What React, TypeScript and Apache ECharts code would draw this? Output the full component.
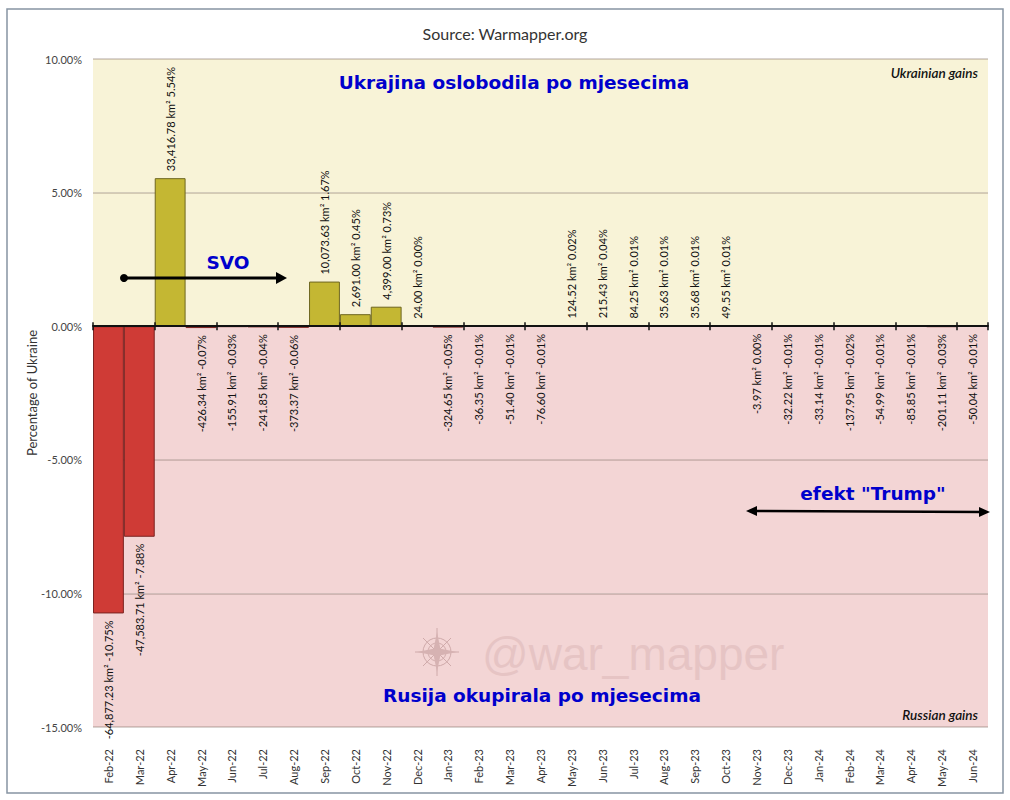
import React, { useEffect, useRef } from 'react';
import * as echarts from 'echarts';

const months = [
  'Feb-22', 'Mar-22', 'Apr-22', 'May-22', 'Jun-22', 'Jul-22', 'Aug-22', 'Sep-22', 'Oct-22', 'Nov-22',
  'Dec-22', 'Jan-23', 'Feb-23', 'Mar-23', 'Apr-23', 'May-23', 'Jun-23', 'Jul-23', 'Aug-23', 'Sep-23',
  'Oct-23', 'Nov-23', 'Dec-23', 'Jan-24', 'Feb-24', 'Mar-24', 'Apr-24', 'May-24', 'Jun-24',
];

const pctValues = [
  -10.75, -7.88, 5.54, -0.07, -0.03, -0.04, -0.06, 1.67, 0.45, 0.73,
  0.0, -0.05, -0.01, -0.01, -0.01, 0.02, 0.04, 0.01, 0.01, 0.01,
  0.01, 0.0, -0.01, -0.01, -0.02, -0.01, -0.01, -0.03, -0.01,
];

const kmValues = [
  -64877.23, -47583.71, 33416.78, -426.34, -155.91, -241.85, -373.37, 10073.63, 2691.0, 4399.0,
  24.0, -324.65, -36.35, -51.4, -76.6, 124.52, 215.43, 84.25, 35.63, 35.68,
  49.55, -3.97, -32.22, -33.14, -137.95, -54.99, -85.85, -201.11, -50.04,
];

const yMin = -15;
const yMax = 10;
const yInterval = 5;

const LABEL_FONT = 'Lato, "Open Sans", sans-serif';
const BLUE_FONT = '"DejaVu Sans", Verdana, sans-serif';

const fmtKm = (v: number) =>
  v.toLocaleString('en-US', { minimumFractionDigits: 2, maximumFractionDigits: 2 });

function buildOption() {
  const data = pctValues.map((v, i) => {
    const km = kmValues[i];
    const up = km >= 0;
    return {
      value: v,
      itemStyle: {
        color: up ? '#c4b733' : '#cf3b36',
        borderColor: up ? '#6e6621' : '#7a2321',
        borderWidth: 1,
      },
      label: {
        show: true,
        position: up ? 'top' : 'bottom',
        distance: 7,
        rotate: 90,
        align: up ? 'left' : 'right',
        verticalAlign: 'middle',
        formatter: `${fmtKm(km)} km² ${v.toFixed(2)}%`,
        fontSize: 11,
        fontFamily: LABEL_FONT,
        color: '#111',
      },
    };
  });

  const bandColors = ['#f3d5d5', '#f3d5d5', '#f3d5d5', '#f8f3d7', '#f8f3d7'];

  const blueText = (text: string, x: number, y: number) => ({
    type: 'text',
    x,
    y,
    z: 100,
    style: {
      text,
      fill: '#0000cc',
      fontSize: 18.5,
      fontWeight: 'bold',
      fontFamily: BLUE_FONT,
      align: 'center',
      verticalAlign: 'middle',
    },
  });

  const cStroke = '#cfaaaa';
  const compassChildren = [
    { type: 'circle', shape: { cx: 0, cy: 0, r: 14 }, style: { fill: 'none', stroke: cStroke, lineWidth: 1 } },
    { type: 'circle', shape: { cx: 0, cy: 0, r: 9 }, style: { fill: 'none', stroke: cStroke, lineWidth: 1 } },
    { type: 'line', shape: { x1: -22, y1: 0, x2: 22, y2: 0 }, style: { stroke: cStroke, lineWidth: 1 } },
    { type: 'line', shape: { x1: 0, y1: -24, x2: 0, y2: 24 }, style: { stroke: cStroke, lineWidth: 1 } },
    { type: 'line', shape: { x1: -14, y1: -14, x2: 14, y2: 14 }, style: { stroke: cStroke, lineWidth: 1 } },
    { type: 'line', shape: { x1: -14, y1: 14, x2: 14, y2: -14 }, style: { stroke: cStroke, lineWidth: 1 } },
    { type: 'polygon', shape: { points: [[0, -20], [4, 0], [0, 20], [-4, 0]] }, style: { fill: '#d6b2b2' } },
    { type: 'polygon', shape: { points: [[-20, 0], [0, -4], [20, 0], [0, 4]] }, style: { fill: '#d6b2b2' } },
  ].map((c) => ({ ...c, z: 60 }));

  const compass = {
    type: 'group',
    x: 437,
    y: 652,
    z: 60,
    children: compassChildren,
  };

  return {
    animation: false,
    backgroundColor: '#ffffff',
    title: {
      text: 'Source: Warmapper.org',
      left: 'center',
      top: 20,
      textStyle: { fontSize: 16, fontWeight: 'normal', color: '#333', fontFamily: LABEL_FONT },
    },
    grid: { left: 93, right: 22, top: 59, bottom: 73, containLabel: false },
    xAxis: [
      {
        type: 'category',
        data: months,
        position: 'bottom',
        axisLine: { show: true, onZero: true, lineStyle: { color: '#111', width: 2 } },
        axisTick: { show: true, length: 4, lineStyle: { color: '#111', width: 1.5 } },
        axisLabel: { show: false },
        splitLine: { show: false },
        z: 10,
      },
      {
        type: 'category',
        data: months,
        position: 'bottom',
        axisLine: { show: false, onZero: false },
        axisTick: { show: false },
        axisLabel: {
          show: true,
          rotate: 90,
          margin: 22,
          fontSize: 11,
          color: '#333',
          fontFamily: LABEL_FONT,
        },
        splitLine: { show: false },
      },
      {
        type: 'category',
        data: months,
        position: 'bottom',
        axisLine: { show: false, onZero: true, onZeroAxisIndex: 1 },
        axisTick: { show: true, inside: true, length: 4, lineStyle: { color: '#111', width: 1.5 } },
        axisLabel: { show: false },
        splitLine: { show: false },
        z: 10,
      },
    ],
    yAxis: [
      {
        type: 'value',
        min: yMin,
        max: yMax,
        interval: yInterval,
        name: 'Percentage of Ukraine',
        nameLocation: 'middle',
        nameGap: 55,
        nameMoveOverlap: false,
        nameTextStyle: { fontSize: 13, color: '#333', fontFamily: LABEL_FONT },
        axisLine: { show: false },
        axisTick: { show: false },
        axisLabel: {
          formatter: (v: number) => `${v.toFixed(2)}%`,
          fontSize: 11,
          color: '#444',
          margin: 11,
          fontFamily: LABEL_FONT,
        },
        splitLine: { show: true, lineStyle: { color: 'rgba(120,100,90,0.38)', width: 1.5 } },
        splitArea: { show: true, areaStyle: { color: bandColors } },
      },
      {
        type: 'value',
        min: yMin,
        max: yMax,
        interval: yInterval,
        show: false,
      },
    ],
    series: [
      {
        type: 'bar',
        xAxisIndex: 0,
        yAxisIndex: 0,
        barCategoryGap: '0%',
        data,
        z: 3,
      },
    ],
    graphic: [
      {
        type: 'rect',
        shape: { x: 7, y: 9, width: 996, height: 784 },
        style: { fill: 'none', stroke: '#8794a3', lineWidth: 1.5 },
        z: 100,
        silent: true,
      },
      blueText('Ukrajina oslobodila po mjesecima', 514, 82),
      blueText('SVO', 228, 262),
      blueText('efekt "Trump"', 873, 493),
      blueText('Rusija okupirala po mjesecima', 542, 695),
      {
        type: 'text',
        x: 978,
        y: 73,
        z: 100,
        style: {
          text: 'Ukrainian gains',
          fill: '#111',
          fontSize: 13.5,
          fontStyle: 'italic',
          fontWeight: 600,
          fontFamily: LABEL_FONT,
          align: 'right',
          verticalAlign: 'middle',
        },
      },
      {
        type: 'text',
        x: 978,
        y: 715,
        z: 100,
        style: {
          text: 'Russian gains',
          fill: '#111',
          fontSize: 13.5,
          fontStyle: 'italic',
          fontWeight: 600,
          fontFamily: LABEL_FONT,
          align: 'right',
          verticalAlign: 'middle',
        },
      },
      {
        type: 'text',
        x: 482,
        y: 654,
        z: 60,
        style: {
          text: '@war_mapper',
          fill: '#e6c4c4',
          fontSize: 46,
          fontFamily: '"Liberation Sans", Arial, sans-serif',
          align: 'left',
          verticalAlign: 'middle',
        },
      },
      compass,
      // SVO arrow
      {
        type: 'line',
        z: 100,
        shape: { x1: 124, y1: 278, x2: 278, y2: 278 },
        style: { stroke: '#000', lineWidth: 3 },
      },
      {
        type: 'circle',
        z: 100,
        shape: { cx: 124, cy: 278, r: 4 },
        style: { fill: '#000' },
      },
      {
        type: 'polygon',
        z: 100,
        shape: { points: [[276, 272], [287, 278], [276, 284]] },
        style: { fill: '#000' },
      },
      // Trump arrow
      {
        type: 'line',
        z: 100,
        shape: { x1: 752, y1: 511, x2: 984, y2: 512 },
        style: { stroke: '#000', lineWidth: 2.5 },
      },
      {
        type: 'polygon',
        z: 100,
        shape: { points: [[746, 511], [757, 506], [757, 516]] },
        style: { fill: '#000' },
      },
      {
        type: 'polygon',
        z: 100,
        shape: { points: [[990, 512], [979, 507], [979, 517]] },
        style: { fill: '#000' },
      },
    ],
  };
}

export default function App() {
  const ref = useRef<HTMLDivElement>(null);
  useEffect(() => {
    if (!ref.current) return;
    const chart = echarts.init(ref.current, null, { renderer: 'svg' });
    chart.setOption(buildOption() as any);
    return () => chart.dispose();
  }, []);
  return (
    <div
      ref={ref}
      style={{ position: 'fixed', left: 0, top: 0, width: 1010, height: 800, background: '#fff' }}
    />
  );
}
